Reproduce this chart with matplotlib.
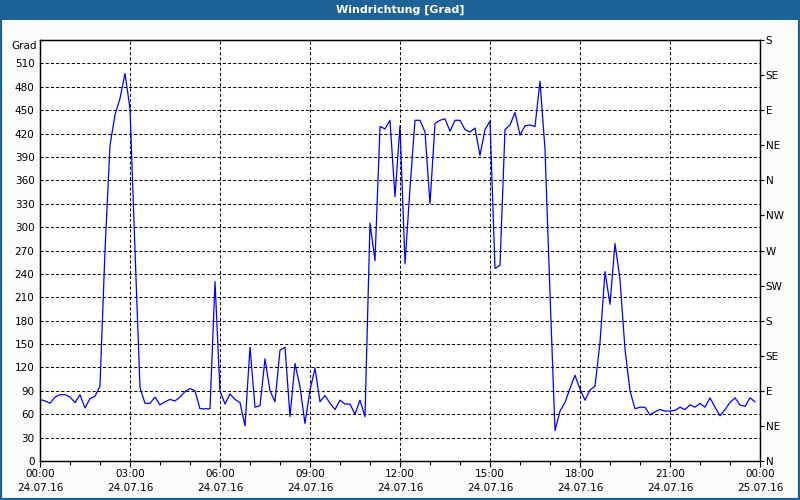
import matplotlib

matplotlib.use("Agg")
import matplotlib.dates as mdates
import matplotlib.pyplot as plt
import numpy as np
import pandas as pd
from matplotlib.patches import Rectangle

# wind direction in degrees, 10-minute samples from 24.07.16 00:00
direction = [
    79, 77, 74, 82, 85, 85, 82, 75, 85, 68, 80, 83,            # 00:00-01:50
    96, 270, 405, 444, 465, 497, 452, 270, 94, 74, 74, 82,     # 02:00-03:50
    72, 76, 79, 77, 82, 89, 93, 90, 67, 67, 67, 230,           # 04:00-05:50
    90, 73, 86, 79, 75, 45, 146, 69, 71, 131, 90, 76,          # 06:00-07:50
    142, 146, 57, 125, 95, 48, 91, 119, 76, 84, 74, 66,        # 08:00-09:50
    78, 73, 73, 60, 78, 57, 305, 257, 429, 426, 437, 339,      # 10:00-11:50
    430, 253, 350, 437, 437, 422, 330, 433, 437, 439, 423, 437,  # 12:00-13:50
    437, 425, 422, 427, 392, 425, 436, 247, 251, 425, 431, 447,  # 14:00-15:50
    418, 430, 431, 429, 487, 400, 215, 39, 64, 75, 93, 110,    # 16:00-17:50
    92, 78, 91, 96, 152, 243, 201, 279, 233, 143, 90, 67,      # 18:00-19:50
    69, 69, 59, 63, 66, 64, 64, 65, 69, 66, 72, 69,            # 20:00-21:50
    74, 69, 81, 69, 58, 66, 75, 81, 72, 70, 81, 76,            # 22:00-23:50
]
times = pd.date_range("2016-07-24 00:00", periods=len(direction), freq="10min")

grad_ticks = list(range(0, 541, 30))
compass_ticks = list(range(0, 541, 45))
compass_labels = ["N", "NE", "E", "SE", "S", "SW", "W", "NW", "N", "NE", "E", "SE", "S"]

TITLE_BG = "#1d6397"
WIN_BG = "#f9fcf9"
LINE = "#0000ff"
FONT = "DejaVu Sans"

fig = plt.figure(figsize=(8, 5), dpi=100, facecolor=WIN_BG)

# title bar and window frame
fig.patches.append(Rectangle((0, 0.96), 1, 0.04, transform=fig.transFigure,
                             facecolor=TITLE_BG, edgecolor="none", zorder=0))
fig.patches.append(Rectangle((0.0012, 0.002), 0.9976, 0.996, transform=fig.transFigure,
                             facecolor="none", edgecolor=TITLE_BG, lw=1.6, zorder=5))
fig.text(0.5, 0.98, "Windrichtung [Grad]", color="white", fontsize=8, fontweight="bold",
         ha="center", va="center", family=FONT)

ax = fig.add_axes([0.05, 0.078, 0.90, 0.842])
ax.set_facecolor("white")
ax.plot(times, direction, color=LINE, lw=0.9, zorder=3)

t0 = pd.Timestamp("2016-07-24 00:00")
t1 = pd.Timestamp("2016-07-25 00:00")
ax.set_xlim(t0, t1)
ax.set_ylim(0, 540)

ax.xaxis.set_major_locator(mdates.HourLocator(byhour=range(0, 24, 3)))
ax.xaxis.set_minor_locator(mdates.HourLocator())
ax.xaxis.set_major_formatter(mdates.DateFormatter("%H:%M\n%d.%m.%y"))

ax.set_yticks(grad_ticks)
ax.set_yticklabels([str(v) for v in grad_ticks[:-1]] + [""])
ax.text(-0.004, 0.985, "Grad", transform=ax.transAxes, ha="right", va="center",
        fontsize=7.5, family=FONT)

ax.grid(True, which="major", color="black", linestyle=(0, (3, 2)), lw=0.75)
ax.tick_params(axis="x", which="major", length=4, width=0.8, labelsize=7.5, pad=2)
ax.tick_params(axis="x", which="minor", length=3, width=0.8)
ax.tick_params(axis="y", length=0, labelsize=7.5, pad=4)
for lab in ax.get_xticklabels() + ax.get_yticklabels():
    lab.set_family(FONT)
    lab.set_linespacing(1.5)
for s in ax.spines.values():
    s.set_color("black")
    s.set_linewidth(1.0)

ax2 = ax.twinx()
ax2.set_ylim(0, 540)
ax2.set_yticks(compass_ticks)
ax2.set_yticklabels(compass_labels)
ax2.tick_params(axis="y", length=3, width=0.8, labelsize=7.5, pad=1)
for lab in ax2.get_yticklabels():
    lab.set_family(FONT)

fig.savefig("out.png", dpi=100, facecolor=WIN_BG)
